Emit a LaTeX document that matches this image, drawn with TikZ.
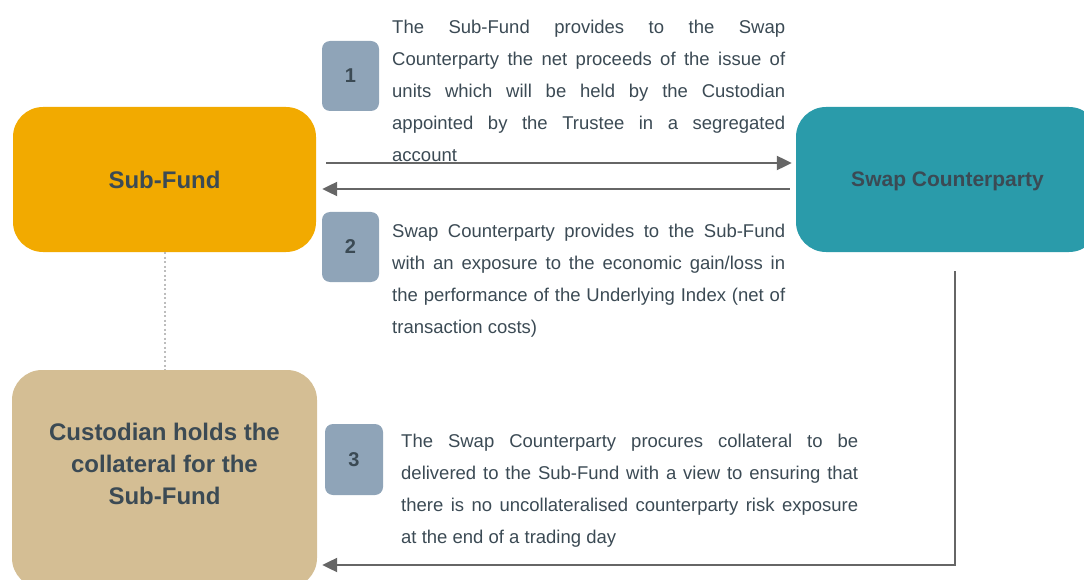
\documentclass[tikz,border=0pt]{standalone}
\usepackage{fontspec}
\setmainfont{Liberation Sans}
\usetikzlibrary{arrows.meta}
\definecolor{subc}{HTML}{F2AA00}
\definecolor{swapc}{HTML}{2A9BAA}
\definecolor{custc}{HTML}{D4BE94}
\definecolor{numc}{HTML}{8FA4B8}
\definecolor{txt}{HTML}{3B4A54}
\definecolor{arrc}{HTML}{666666}
\definecolor{dotc}{HTML}{BDBDBD}
\hyphenpenalty=10000
\exhyphenpenalty=10000
\begin{document}
\begin{tikzpicture}[x=1pt,y=-1pt,
  bigbox/.style={rounded corners=30pt, inner sep=0pt, minimum width=303pt, minimum height=145pt},
  lbl/.style={font=\fontsize{24}{32}\selectfont\bfseries, text=txt, align=center, inner sep=0pt},
  numbox/.style={fill=numc, rounded corners=8pt, minimum width=57pt, minimum height=70pt, inner sep=0pt, text depth=0pt, font=\fontsize{20}{22}\selectfont\bfseries, text=txt},
  body/.style={font=\fontsize{18.5}{32}\selectfont, text=txt, align=justify, inner sep=0pt, anchor=north west},
  arr/.style={draw=arrc, line width=2.2pt, -{Triangle[length=15pt,width=14pt]}}
]
\useasboundingbox (0,0) rectangle (1084,580);
\clip (0,0) rectangle (1084,580);

% main boxes
\node[bigbox, fill=subc, text depth=0pt, font=\fontsize{24}{32}\selectfont\bfseries, text=txt] (sub) at (164.5,179.5) {Sub-Fund};
\node[bigbox, fill=swapc, text depth=0pt, font=\fontsize{21}{28}\selectfont\bfseries, text=txt] (swap) at (947.5,179.5) {Swap Counterparty};
\node[bigbox, fill=custc, minimum width=305pt, minimum height=218pt] (cust) at (164.5,479) {};
\node[lbl] (custlbl) at (164.5,464) {Custodian holds the\\collateral for the\\Sub-Fund};

% dotted link
\draw[dotc, line width=2pt, dash pattern=on 2pt off 2.5pt] (sub.south) -- (cust.north);

% number boxes
\node[numbox] (n1) at (350.5,76) {1};
\node[numbox] (n2) at (350.5,247) {2};
\node[numbox, minimum width=58pt, minimum height=71pt] (n3) at (354,459.5) {3};

% texts
\node[body, text width=393pt] (t1) at (392,19.5) {The Sub-Fund provides to the Swap\linebreak Counterparty the net proceeds of the issue of\linebreak units which will be held by the Custodian\linebreak appointed by the Trustee in a segregated\linebreak account};
\node[body, text width=393pt] (t2) at (392,223.5) {Swap Counterparty provides to the Sub-Fund\linebreak with an exposure to the economic gain/loss in\linebreak the performance of the Underlying Index (net of\linebreak transaction costs)};
\node[body, text width=457pt] (t3) at (401,433.5) {The Swap Counterparty procures collateral to be\linebreak delivered to the Sub-Fund with a view to ensuring that\linebreak there is no uncollateralised counterparty risk exposure\linebreak at the end of a trading day};

% arrows
\draw[arr] ([xshift=10pt,yshift=16.5pt]sub.east) -- ([xshift=-4pt,yshift=16.5pt]swap.west);
\draw[arr] ([xshift=-6pt,yshift=-9.5pt]swap.west) -- ([xshift=6pt,yshift=-9.5pt]sub.east);
\draw[arr] ([xshift=7.5pt,yshift=-19pt]swap.south) |- ([xshift=5pt,yshift=-86pt]cust.east);
\end{tikzpicture}
\end{document}
